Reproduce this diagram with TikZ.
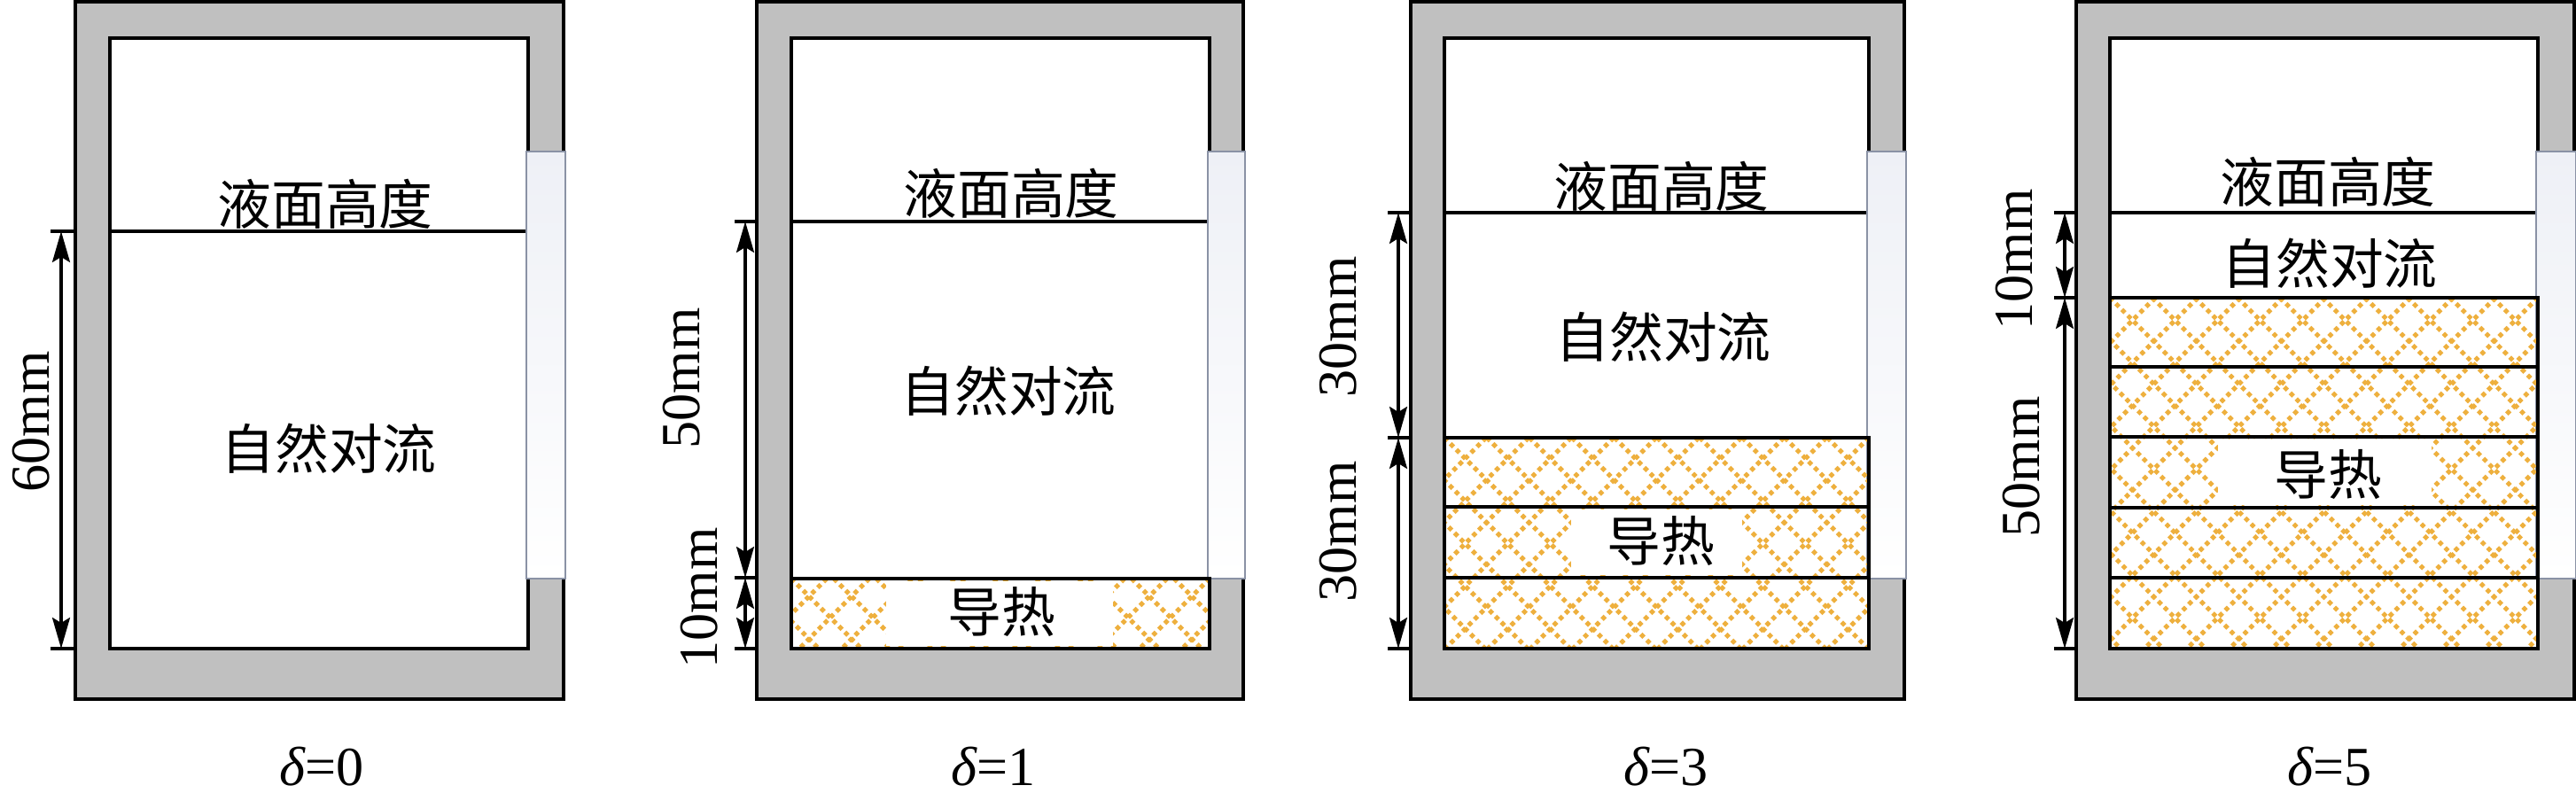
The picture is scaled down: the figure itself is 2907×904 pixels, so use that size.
\documentclass[tikz,border=0pt]{standalone}
\usepackage{fontspec}
\setmainfont{Liberation Serif}
\newfontfamily\cjk{Noto Sans CJK SC}
\usetikzlibrary{arrows.meta}
\definecolor{wallgray}{RGB}{192,192,192}
\definecolor{hatchorange}{RGB}{238,176,62}
\definecolor{winedge}{RGB}{138,146,165}
\definecolor{winfill}{RGB}{238,240,246}
\tikzset{
  wallbox/.style={fill=wallgray,draw=black,line width=1.3pt},
  cavity/.style={fill=white,draw=black,line width=1.3pt},
  winbox/.style={top color=winfill,bottom color=white,draw=winedge,line width=0.8pt},
  liquid/.style={line width=0.9pt},
  layerbox/.style={draw=black,line width=1.2pt},
  hatchline/.style={hatchorange,line width=0.5mm,dash pattern=on 0.5mm off 0.45mm},
  dimarrow/.style={line width=0.9pt,{Stealth[length=3.5mm,width=2mm,inset=0.6mm]}-{Stealth[length=3.5mm,width=2mm,inset=0.6mm]}},
  dimtick/.style={line width=0.9pt},
  zonelbl/.style={font=\cjk\fontsize{17.3}{17.3}\selectfont,inner sep=0pt},
  dimlbl/.style={font=\fontsize{17.7}{17.7}\selectfont,rotate=90,inner sep=0pt},
  deltalbl/.style={font=\fontsize{17.7}{17.7}\selectfont,inner sep=0pt}
}
\begin{document}
\begin{tikzpicture}[x=0.1mm,y=-0.1mm]
  \useasboundingbox (0,0) rectangle (2907,904);

  % vessels
  \foreach \oL/\oR/\iL/\iR/\lq in {85/636/124/596/261, 854/1403/893/1365/250,
      1592/2149/1630/2109/240, 2343/2905/2381/2864/240} {
      \draw[wallbox] (\oL,2) rectangle (\oR,789);
      \draw[cavity] (\iL,43) rectangle (\iR,732);
      \draw[liquid] (\iL,\lq) -- (\iR,\lq);
      \draw[winbox] (\iR-2,171) rectangle (\oR+2,653);
    }

  % conducting layers
  \foreach \hL/\hT/\hR in {893/653/1365, 1630/494/2109, 2381/336/2864} {
      \begin{scope}
        \clip (\hL,\hT) rectangle (\hR,732);
        \foreach \k in {-9,...,11}
          \draw[hatchline] (\hL+\k*48,\hT) -- ++(420,420)
                           (\hR-\k*48,\hT) -- ++(-420,420);
      \end{scope}
    }
  \fill[white] (1000,656) rectangle (1256,729);
  \fill[white] (1773,575) rectangle (1966,649);
  \fill[white] (2503,496) rectangle (2744,570);
  \foreach \hL/\hR/\t/\b in {893/1365/653/732, 1630/2109/494/572, 1630/2109/572/652,
      1630/2109/652/732, 2381/2864/336/414, 2381/2864/414/493, 2381/2864/493/573,
      2381/2864/573/652, 2381/2864/652/732}
    \draw[layerbox] (\hL,\t) rectangle (\hR,\b);

  % texts
  \node[zonelbl] (lvlA) at (367,230) {液面高度};
  \node[zonelbl] (convA) at (371,506) {自然对流};
  \node[zonelbl] (lvlB) at (1141,218) {液面高度};
  \node[zonelbl] (convB) at (1138,441) {自然对流};
  \node[zonelbl] (condB) at (1130,690) {导热};
  \node[zonelbl] (lvlC) at (1875,210) {液面高度};
  \node[zonelbl] (convC) at (1877,380) {自然对流};
  \node[zonelbl] (condC) at (1874,610) {导热};
  \node[zonelbl] (lvlD) at (2627,205) {液面高度};
  \node[zonelbl] (convD) at (2629,297) {自然对流};
  \node[zonelbl] (condD) at (2627,535) {导热};

  \node[deltalbl] (deltaA) at (363,865) {{\itshape δ}=0};
  \node[deltalbl] (deltaB) at (1121,865) {{\itshape δ}=1};
  \node[deltalbl] (deltaC) at (1880,865) {{\itshape δ}=3};
  \node[deltalbl] (deltaD) at (2629,865) {{\itshape δ}=5};

  % dimensions
  \coordinate (dA1) at (69,261);   \coordinate (dA2) at (69,732);
  \coordinate (dB1) at (841,250);  \coordinate (dB2) at (841,652);  \coordinate (dB3) at (841,732);
  \coordinate (dC1) at (1578,240); \coordinate (dC2) at (1578,494); \coordinate (dC3) at (1578,732);
  \coordinate (dD1) at (2330,240); \coordinate (dD2) at (2330,336); \coordinate (dD3) at (2330,732);
  \foreach \x/\y in {69/261, 69/732, 841/250, 841/652, 841/732, 1578/240, 1578/494,
      1578/732, 2330/240, 2330/336, 2330/732}
    \draw[dimtick] (\x-12,\y) -- (\x+14,\y);
  \draw[dimarrow] (dA1) -- (dA2);
  \draw[dimarrow] (dB1) -- (dB2);
  \draw[dimarrow] (dB2) -- (dB3);
  \draw[dimarrow] (dC1) -- (dC2);
  \draw[dimarrow] (dC2) -- (dC3);
  \draw[dimarrow] (dD1) -- (dD2);
  \draw[dimarrow] (dD2) -- (dD3);

  \node[dimlbl] (hA) at (35,476) {60mm};
  \node[dimlbl] (hB1) at (769,427) {50mm};
  \node[dimlbl] (hB2) at (789,675) {10mm};
  \node[dimlbl] (hC1) at (1510,369) {30mm};
  \node[dimlbl] (hC2) at (1510,600) {30mm};
  \node[dimlbl] (hD1) at (2273,293) {10mm};
  \node[dimlbl] (hD2) at (2281,527) {50mm};
\end{tikzpicture}
\end{document}
